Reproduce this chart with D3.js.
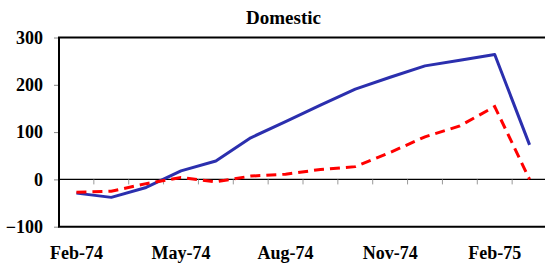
<!DOCTYPE html><meta charset="utf-8">
<style>*{margin:0}body{background:#fff}</style>
<svg width="545" height="270"></svg>
<script src="https://d3js.org/d3.v7.min.js"></script>
<script>
const months = ["Feb-74","Mar-74","Apr-74","May-74","Jun-74","Jul-74","Aug-74",
                "Sep-74","Oct-74","Nov-74","Dec-74","Jan-75","Feb-75","Mar-75"];
const seriesSolid  = [-29,-38,-17,18,39,88,122,157,191,216,240,252,264,73];
const seriesDashed = [-27,-25,-9,4,-5,7,11,21,27,57,90,113,154,0];
const yTicks = [-100,0,100,200,300];
const xLabels = ["Feb-74","May-74","Aug-74","Nov-74","Feb-75"];

const FONT = "'Liberation Serif', 'Times New Roman', Times, 'DejaVu Serif', serif";

const svg = d3.select("svg"),
      m = {left:59, top:37.5, right:547, bottom:226.7};

const x = d3.scaleBand().domain(months).range([m.left,m.right]),
      y = d3.scaleLinear().domain([-100,300]).range([m.bottom,m.top]);

svg.append("text")                         // title
   .attr("x",283.5).attr("y",24).attr("text-anchor","middle")
   .style("font-family",FONT).style("font-weight","bold")
   .attr("font-size",19).text("Domestic");

// y axis ticks + labels
const ya = svg.append("g").attr("transform",`translate(${m.left},0)`)
   .call(d3.axisLeft(y).tickValues(yTicks).tickSize(5).tickPadding(11));
ya.select(".domain").remove();
ya.selectAll("line").attr("stroke","#888");
ya.selectAll("text").style("font-family",FONT).style("font-weight","bold")
  .style("font-size","18px").attr("fill","#000");

// zero line with category boundary ticks
svg.append("line").attr("x1",m.left).attr("x2",m.right)
   .attr("y1",y(0)).attr("y2",y(0)).attr("stroke","#000").attr("stroke-width",1.2);
svg.selectAll(".xt").data(months.slice(1)).enter().append("line")
   .attr("x1",d=>x(d)).attr("x2",d=>x(d))
   .attr("y1",y(0)).attr("y2",y(0)+5).attr("stroke","#999");

// frame
svg.append("path").attr("fill","none").attr("stroke","#000").attr("stroke-width",2)
   .attr("d",`M${m.right},${m.top}H${m.left}V${m.bottom}H${m.right}`);

// x labels under every third month
svg.selectAll(".xl").data(xLabels).enter().append("text")
   .attr("x",d=>x(d)+x.bandwidth()/2).attr("y",259)
   .attr("text-anchor","middle")
   .style("font-family",FONT).style("font-weight","bold").style("font-size","18px")
   .text(d=>d);

const line = d3.line().x((d,i)=>x(months[i])+x.bandwidth()/2).y(d=>y(d));

svg.append("path").datum(seriesSolid)
   .attr("fill","none").attr("stroke","#2B2FAE").attr("stroke-width",3)
   .attr("stroke-linejoin","round").attr("d",line);
svg.append("path").datum(seriesDashed)
   .attr("fill","none").attr("stroke","#FF0000").attr("stroke-width",3)
   .attr("stroke-dasharray","10,6").attr("d",line);
</script>
